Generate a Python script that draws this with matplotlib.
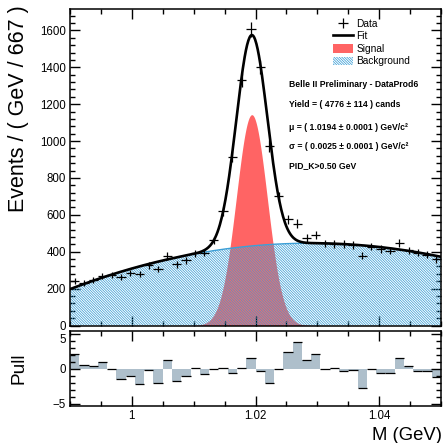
import numpy as np
import matplotlib
matplotlib.use("Agg")
import matplotlib.pyplot as plt
from matplotlib.patches import Patch
from matplotlib.lines import Line2D
from matplotlib.ticker import MultipleLocator, FuncFormatter

plt.rcParams['font.family'] = ['Liberation Sans', 'DejaVu Sans']
plt.rcParams['hatch.linewidth'] = 0.55

# binning: 40 bins between 0.99 and 1.05 GeV
m_lo, m_hi, n_bins = 0.99, 1.05, 40

# data counts per bin
counts = [240, 232, 246, 268, 272, 262, 285, 281, 326, 307,
          377, 331, 354, 392, 395, 461, 620, 914, 1330, 1605,
          1400, 972, 700, 576, 553, 475, 491, 445, 443, 440,
          438, 378, 428, 415, 406, 446, 408, 394, 384, 358]

# pull per bin
pulls = [2.1, 0.5, 0.4, 0.9, -0.05, -1.45, -1.0, -2.2, -0.15, -2.0,
         1.25, -1.85, -1.1, 0.1, -0.76, -0.05, 0.08, -0.7, 0.1, 1.52,
         -0.29, -2.05, -0.05, 2.35, 3.85, 1.25, 2.12, -0.08, 0.02, -0.38,
         -0.22, -2.78, -0.08, -0.6, -0.6, 1.52, 0.35, -0.29, -0.31, -1.24]

# fit result: gaussian signal + quadratic background (around 1.02 GeV)
sig_yield = 4776
sig_mu = 1.0194
sig_sigma = 0.0025
bkg_coef = [433.3, 2921.0, -165000.0]   # a + b*t + c*t^2, t = m - 1.02

info_lines = ["Belle II Preliminary - DataProd6",
              "Yield = ( 4776 \u00b1 114 ) cands",
              "\u03bc = ( 1.0194 \u00b1 0.0001 ) GeV/c\u00b2",
              "\u03c3 = ( 0.0025 \u00b1 0.0001 ) GeV/c\u00b2",
              "PID_K>0.50 GeV"]

red = "#ff6464"
blue = "#3d9fd6"
pull_col = "#aebfcb"
hatch = "\\" * 13

edges = np.linspace(m_lo, m_hi, n_bins + 1)
bw = edges[1] - edges[0]
centers = 0.5 * (edges[:-1] + edges[1:])
counts = np.array(counts, dtype=float)

x = np.linspace(m_lo, m_hi, 600)
t = x - 1.02
bkg = bkg_coef[0] + bkg_coef[1] * t + bkg_coef[2] * t ** 2
sig = sig_yield * bw / (np.sqrt(2 * np.pi) * sig_sigma) * np.exp(-0.5 * ((x - sig_mu) / sig_sigma) ** 2)
fit = bkg + sig

W, H = 444, 443
fig = plt.figure(figsize=(W / 100, H / 100), dpi=100)
ax = fig.add_axes([70 / W, 1 - 325.5 / H, 371 / W, 316.5 / H])
ax2 = fig.add_axes([70 / W, 1 - 406.3 / H, 371 / W, 75.6 / H])

# main panel
ax.fill_between(x, 0, sig, color=red, lw=0, zorder=1)
ax.fill_between(x, 0, bkg, facecolor="none", edgecolor=blue, hatch=hatch, lw=0, zorder=2)
ax.plot(x, bkg, color=blue, lw=1, zorder=3)
ax.plot(x, fit, color="k", lw=1.9, zorder=4)
eb = ax.errorbar(centers, counts, xerr=bw / 2, yerr=np.sqrt(counts), fmt="none",
                 ecolor="k", elinewidth=0.9, capsize=0, zorder=5)

ax.set_xlim(m_lo, m_hi)
ax.set_ylim(0, 1716)
ax.xaxis.set_major_locator(MultipleLocator(0.02))
ax.xaxis.set_minor_locator(MultipleLocator(0.005))
ax.yaxis.set_major_locator(MultipleLocator(200))
ax.yaxis.set_minor_locator(MultipleLocator(40))
ax.tick_params(labelbottom=False)

handles = [eb,
           Line2D([], [], color="k", lw=1.9),
           Patch(facecolor=red, lw=0),
           Patch(facecolor="white", edgecolor=blue, hatch=hatch, lw=0)]
ax.legend(handles, ["Data", "Fit", "Signal", "Background"], loc="upper left",
          bbox_to_anchor=(0.695, 0.985), frameon=False, fontsize=7.3,
          handlelength=2.0, handleheight=0.9, labelspacing=0.25,
          handletextpad=0.3, borderpad=0)

ys = [0.760, 0.697, 0.627, 0.564, 0.504]
for s, yy in zip(info_lines, ys):
    ax.text(0.5895, yy, s, transform=ax.transAxes, fontsize=6.25,
            fontweight="bold", va="center", ha="left")

# pull panel
ax2.bar(centers, pulls, width=bw, color=pull_col, edgecolor="none", zorder=1)
ax2.hlines(pulls, edges[:-1], edges[1:], color="k", lw=0.9, zorder=2)
ax2.set_xlim(m_lo, m_hi)
ax2.set_ylim(-5.4, 5.4)
ax2.xaxis.set_major_locator(MultipleLocator(0.02))
ax2.xaxis.set_minor_locator(MultipleLocator(0.005))
ax2.yaxis.set_major_locator(MultipleLocator(5))
ax2.yaxis.set_minor_locator(MultipleLocator(1))
ax2.xaxis.set_major_formatter(FuncFormatter(lambda v, p: "%g" % round(v, 4)))

for a in (ax, ax2):
    a.tick_params(which="both", direction="in", top=True, right=True,
                  labelsize=8.3, width=1, pad=3)
    a.tick_params(which="major", length=7.5)
    a.tick_params(which="minor", length=3.8)
    for sp in a.spines.values():
        sp.set_linewidth(1.1)

fig.text(19 / W, 1 - 5 / H, "Events / ( GeV / 667 )", rotation=90,
         ha="center", va="top", fontsize=15.5)
fig.text(19 / W, 1 - 368 / H, "Pull", rotation=90, ha="center",
         va="center", fontsize=13.7)
fig.text(442 / W, 1 - 439.5 / H, "M (GeV)", ha="right", va="baseline",
         fontsize=13.3)

# keep the "5" of the pull panel clear of the "0" above it
fig.canvas.draw()
for lab in ax2.get_yticklabels():
    if lab.get_text() == "5":
        lab.set_va("top")

fig.savefig("out.png", dpi=100)
